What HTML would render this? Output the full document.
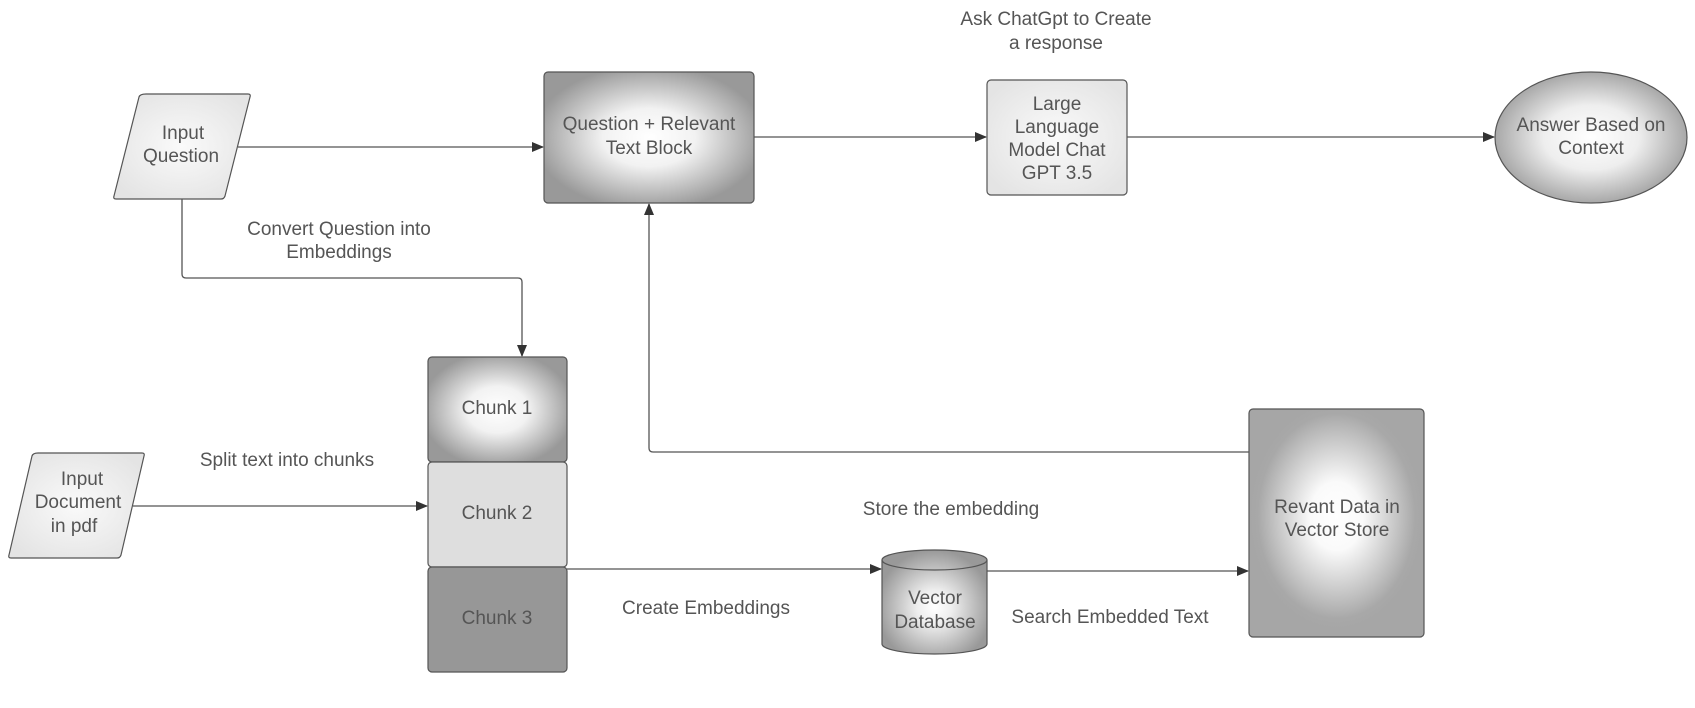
<!DOCTYPE html>
<html><head><meta charset="utf-8"><style>
html,body{margin:0;padding:0;background:#fff;width:1695px;height:708px;overflow:hidden}
svg text{font-family:"Liberation Sans",sans-serif;font-size:19px;fill:#555;text-anchor:middle}
</style></head><body>
<svg width="1695" height="708" viewBox="0 0 1695 708" xmlns="http://www.w3.org/2000/svg">
<defs>
<radialGradient id="gDark" cx="50%" cy="50%" r="55%"><stop offset="0" stop-color="#fff"/><stop offset="0.4" stop-color="#f2f2f2"/><stop offset="1" stop-color="#999"/></radialGradient>
<radialGradient id="gLight" cx="50%" cy="50%" r="60%"><stop offset="0" stop-color="#fafafa"/><stop offset="1" stop-color="#e4e4e4"/></radialGradient>
<radialGradient id="gRev" cx="50%" cy="47%" r="50%"><stop offset="0" stop-color="#fff"/><stop offset="0.3" stop-color="#fafafa"/><stop offset="0.9" stop-color="#a8a8a8"/><stop offset="1" stop-color="#a6a6a6"/></radialGradient>
<radialGradient id="gEll" cx="50%" cy="50%" r="55%"><stop offset="0" stop-color="#fff"/><stop offset="0.45" stop-color="#eee"/><stop offset="1" stop-color="#9a9a9a"/></radialGradient>
<radialGradient id="gDb" cx="50%" cy="55%" r="55%"><stop offset="0" stop-color="#fff"/><stop offset="0.3" stop-color="#eee"/><stop offset="1" stop-color="#999"/></radialGradient>
<marker id="ar" markerWidth="12" markerHeight="10" refX="11" refY="5" orient="auto" markerUnits="userSpaceOnUse"><path d="M0,0 L12,5 L0,10 z" fill="#333"/></marker>
</defs>
<g stroke="#555" stroke-width="1.3" fill="none">
<line x1="238" y1="147" x2="543" y2="147" marker-end="url(#ar)"/>
<line x1="754" y1="137" x2="986" y2="137" marker-end="url(#ar)"/>
<line x1="1127" y1="137" x2="1494" y2="137" marker-end="url(#ar)"/>
<path d="M182,199 V274 Q182,278 186,278 H518 Q522,278 522,282 V356" marker-end="url(#ar)"/>
<path d="M1249,452 H653 Q649,452 649,448 V204" marker-end="url(#ar)"/>
<line x1="133" y1="506" x2="427" y2="506" marker-end="url(#ar)"/>
<line x1="567" y1="569" x2="881" y2="569" marker-end="url(#ar)"/>
<line x1="987" y1="571" x2="1248" y2="571" marker-end="url(#ar)"/>
</g>
<g stroke="#555" stroke-width="1.2">
<path d="M146,94 H248 Q251,94 250,97 L225,196 Q224,199 221,199 H116 Q113,199 114,196 L139,97 Q140,94 146,94 z" fill="url(#gLight)"/>
<rect x="544" y="72" width="210" height="131" rx="4" fill="url(#gDark)"/>
<rect x="987" y="80" width="140" height="115" rx="4" fill="url(#gLight)"/>
<ellipse cx="1591" cy="137.5" rx="96" ry="65.5" fill="url(#gEll)"/>
<rect x="428" y="357" width="139" height="105" rx="4" fill="url(#gDark)"/>
<rect x="428" y="462" width="139" height="105" rx="4" fill="#dedede"/>
<rect x="428" y="567" width="139" height="105" rx="4" fill="#979797"/>
<path d="M38,453 H142 Q145,453 144,456 L121,555 Q120,558 117,558 H11 Q8,558 9,555 L32,456 Q33,453 38,453 z" fill="url(#gLight)"/>
<rect x="1249" y="409" width="175" height="228" rx="4" fill="url(#gRev)"/>
<path d="M882,560 V644 A52.5,10 0 0 0 987,644 V560 A52.5,10 0 0 0 882,560 z" fill="url(#gDb)"/>
<path d="M882,560 A52.5,10 0 0 0 987,560" fill="none"/>
</g>
<text x="183" y="139">Input</text><text x="181" y="162">Question</text>
<text x="649" y="130">Question + Relevant</text><text x="649" y="154">Text Block</text>
<text x="1056" y="25">Ask ChatGpt to Create</text><text x="1056" y="49">a response</text>
<text x="1057" y="110">Large</text><text x="1057" y="133">Language</text><text x="1057" y="156">Model Chat</text><text x="1057" y="179">GPT 3.5</text>
<text x="1591" y="131">Answer Based on</text><text x="1591" y="154">Context</text>
<text x="339" y="235">Convert Question into</text><text x="339" y="258">Embeddings</text>
<text x="497" y="414">Chunk 1</text><text x="497" y="519">Chunk 2</text><text x="497" y="624">Chunk 3</text>
<text x="82" y="485">Input</text><text x="78" y="508">Document</text><text x="74" y="532">in pdf</text>
<text x="287" y="466">Split text into chunks</text>
<text x="706" y="614">Create Embeddings</text>
<text x="951" y="515">Store the embedding</text>
<text x="935" y="604">Vector</text><text x="935" y="628">Database</text>
<text x="1110" y="623">Search Embedded Text</text>
<text x="1337" y="513">Revant Data in</text><text x="1337" y="536">Vector Store</text>
</svg>
</body></html>
